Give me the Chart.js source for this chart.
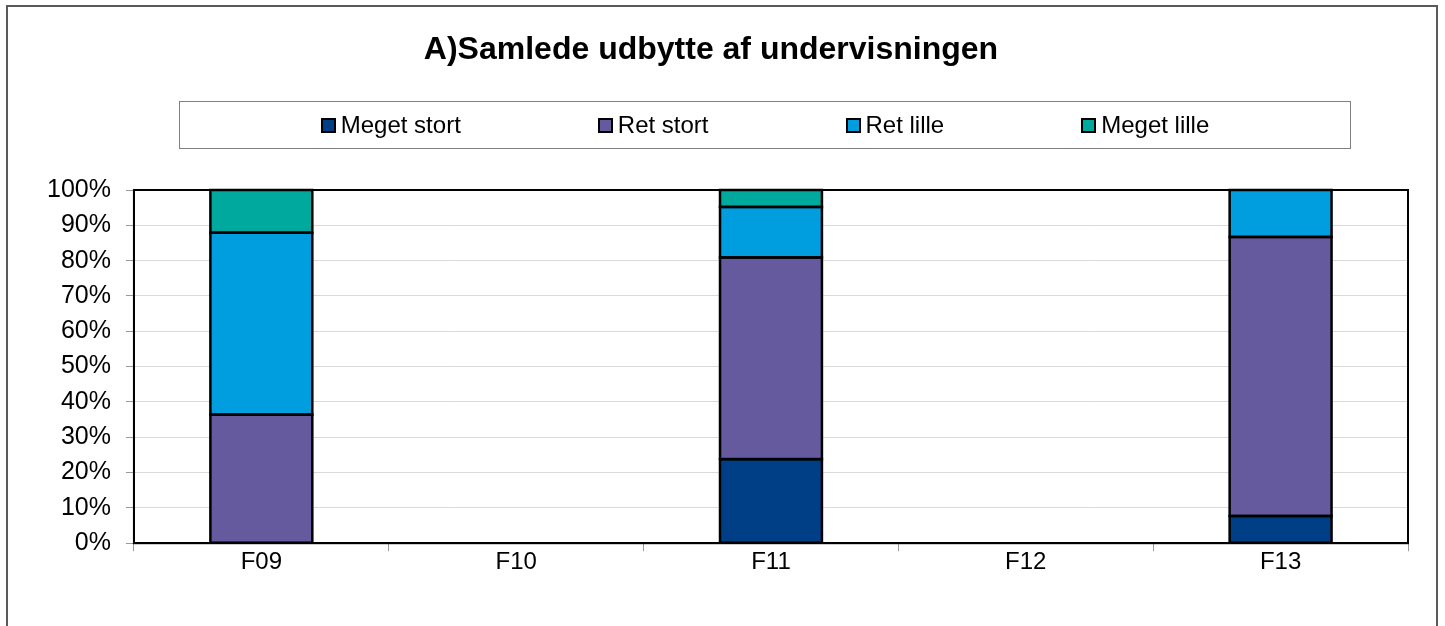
<!DOCTYPE html>
<html>
<head>
<meta charset="utf-8">
<script src="https://cdn.jsdelivr.net/npm/chart.js@4"></script>
<style>
  html, body { margin: 0; padding: 0; background: #fff; }
  body { width: 1445px; height: 626px; overflow: hidden; position: relative; font-family: 'Liberation Sans', Arial, sans-serif; }
  #frame { position: absolute; left: 6px; top: 5px; width: 1432px; height: 700px; border: 2px solid #5a5a5a; border-bottom: none; box-sizing: border-box; }
  #chart { position: absolute; left: 0; top: 0; }
  #title { position: absolute; left: 0; top: 29px; width: 1422px; text-align: center; font-size: 32px; font-weight: bold; line-height: 38px; color: #000; }
  #legend { position: absolute; left: 179px; top: 101px; width: 1172px; height: 48px; border: 1px solid #808080; box-sizing: border-box;
            display: flex; justify-content: center; align-items: center; gap: 137px; font-size: 24px; color: #000; }
  .item { display: flex; align-items: center; }
  .box { width: 11px; height: 11px; border: 2px solid #000; margin-right: 5px; }
</style>
</head>
<body>
<div id="frame"></div>
<canvas id="chart" width="1445" height="626"></canvas>
<div id="title">A)Samlede udbytte af undervisningen</div>
<div id="legend"></div>
<script>
// Categorías y series (porcentajes)
const categorias = ['F09', 'F10', 'F11', 'F12', 'F13'];
const megetStort = [0, null, 23.8, null, 7.7];
const retStort = [36.4, null, 57.1, null, 79.0];
const retLille = [51.5, null, 14.3, null, 13.3];
const megetLille = [12.1, null, 4.8, null, 0];
const yTicks = [0, 10, 20, 30, 40, 50, 60, 70, 80, 90, 100];

const series = [
    { label: 'Meget stort', data: megetStort, color: '#003e86' },
    { label: 'Ret stort', data: retStort, color: '#665a9e' },
    { label: 'Ret lille', data: retLille, color: '#009ddf' },
    { label: 'Meget lille', data: megetLille, color: '#00a99d' }
];

// Leyenda en HTML (con marco)
const legend = document.getElementById('legend');
series.forEach(s => {
    const it = document.createElement('div');
    it.className = 'item';
    it.innerHTML = '<span class="box" style="background:' + s.color + '"></span><span>' + s.label + '</span>';
    legend.appendChild(it);
});

const fontFam = "'Liberation Sans', Arial, sans-serif";

// contornos negros de las barras + marco del área de trazado
const outlines = {
    id: 'outlines',
    afterDatasetsDraw(chart) {
        const ctx = chart.ctx, a = chart.chartArea;
        ctx.save();
        ctx.strokeStyle = '#000';
        ctx.lineWidth = 2.5;
        chart.data.datasets.forEach((ds, i) => {
            chart.getDatasetMeta(i).data.forEach((bar, j) => {
                const v = ds.data[j];
                if (v === null || v === 0) return;
                const p = bar.getProps(['x', 'y', 'base', 'width'], true);
                ctx.strokeRect(p.x - p.width / 2, p.y, p.width, p.base - p.y);
            });
        });
        ctx.lineWidth = 2;
        ctx.strokeRect(a.left, a.top, a.right - a.left, a.bottom - a.top);
        ctx.restore();
    }
};

new Chart(document.getElementById('chart'), {
    type: 'bar',
    data: {
        labels: categorias,
        datasets: series.map(s => ({
            label: s.label,
            data: s.data,
            backgroundColor: s.color,
            borderWidth: 0,
            inflateAmount: 0,
            barPercentage: 0.4,
            categoryPercentage: 1.0
        }))
    },
    options: {
        responsive: false,
        animation: false,
        devicePixelRatio: 1,
        layout: { padding: { left: 32, right: 37, top: 190, bottom: 52 } },
        plugins: {
            legend: { display: false },
            tooltip: { enabled: false },
            title: { display: false }
        },
        scales: {
            x: {
                stacked: true,
                grid: { display: true, drawOnChartArea: false, drawTicks: true, tickLength: 8, color: '#9a9a9a' },
                border: { display: true, color: '#000', width: 2 },
                ticks: { color: '#000', font: { family: fontFam, size: 24 }, padding: -3 }
            },
            y: {
                stacked: true,
                min: 0,
                max: 100,
                afterBuildTicks: scale => { scale.ticks = yTicks.map(v => ({ value: v })); },
                grid: { color: '#d9d9d9', lineWidth: 1, tickLength: 8, tickColor: '#9a9a9a' },
                border: { display: true, color: '#000', width: 2 },
                ticks: { color: '#000', font: { family: fontFam, size: 25 }, padding: 15, callback: v => v + '%' }
            }
        }
    },
    plugins: [outlines]
});
</script>
</body>
</html>
